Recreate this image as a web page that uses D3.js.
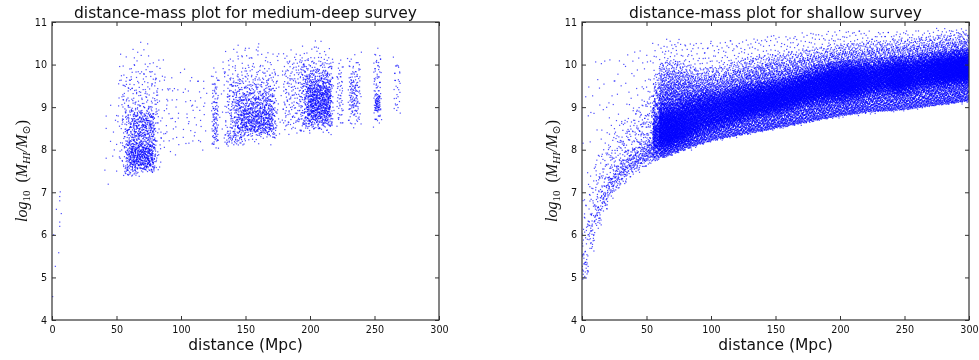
<!DOCTYPE html>
<html><head><meta charset="utf-8">
<script src="https://cdn.jsdelivr.net/npm/d3@7"></script>
<style>
body{margin:0;background:#fff}
#wrap{position:relative;width:979px;height:360px;overflow:hidden}
canvas,svg{position:absolute;left:0;top:0}
</style>
</head><body>
<div id="wrap"><canvas id="cv" width="979" height="360"></canvas><svg id="sv" width="979" height="360"></svg></div>
<script>
// ---------------- DATA ----------------
const xTicks = [0, 50, 100, 150, 200, 250, 300];
const yTicks = [4, 5, 6, 7, 8, 9, 10, 11];
const titles = ["distance-mass plot for medium-deep survey", "distance-mass plot for shallow survey"];
const xLabel = "distance (Mpc)";

// medium-deep survey: point clumps [dist from, dist to, logM from, logM to, number of galaxies]
const deepClumps = [
  [51, 86, 7.42, 10.2, 280],
  [55, 82, 7.5, 9.15, 330],
  [57, 81, 7.52, 8.3, 270],
  [60, 79, 7.6, 8.1, 120],
  [61, 80, 8.25, 8.9, 130],
  [55, 68, 7.36, 7.62, 35],
  [68, 81, 7.46, 7.64, 25],
  [48, 90, 7.6, 10.3, 60],
  [60, 78, 10.1, 10.6, 6],
  [85, 100, 7.8, 10.0, 35],
  [44, 55, 7.3, 9.6, 12],
  [100, 121, 7.95, 9.9, 45],
  [123.5, 129.5, 7.95, 9.95, 80],
  [124.5, 128.5, 8.1, 9.2, 35],
  [130, 178, 8.1, 10.4, 290],
  [134, 176, 8.2, 9.85, 390],
  [140, 174, 8.3, 9.4, 380],
  [145, 173, 8.42, 9.0, 160],
  [133, 150, 8.08, 8.4, 45],
  [140, 168, 10.1, 10.55, 10],
  [178, 196, 8.35, 10.35, 180],
  [191, 219, 8.32, 10.45, 250],
  [193, 218, 8.42, 10.1, 380],
  [196, 218, 8.55, 9.75, 350],
  [198, 217, 8.75, 9.5, 170],
  [200, 212, 10.3, 10.7, 5],
  [220.5, 226, 8.5, 10.15, 55],
  [229, 240, 8.48, 10.3, 100],
  [230.5, 237.5, 8.85, 9.75, 60],
  [249, 255.5, 8.5, 10.4, 80],
  [250, 254.5, 8.88, 9.32, 55],
  [264.5, 270.5, 8.8, 10.2, 32]
];
// medium-deep survey: isolated galaxies
const deepSingleDist = [0.5, 1.3, 2.6, 5.2, 6.0, 6.0, 3.4, 7.2, 6.0, 6.0, 6.4, 42, 42, 43.6, 42, 41];
const deepSingleMass = [4.55, 6.0, 5.26, 5.58, 6.2, 6.3, 6.6, 6.5, 6.8, 6.9, 7.01, 8.79, 8.5, 7.19, 7.8, 7.52];

// shallow survey: 5 Mpc distance bins, mass envelope and counts per bin
const shallowBin = [0,5,10,15,20,25,30,35,40,45,50,55,60,65,70,75,80,85,90,95,100,105,110,115,120,125,130,135,140,145,150,155,160,165,170,175,180,185,190,195,200,205,210,215,220,225,230,235,240,245,250,255,260,265,270,275,280,285,290,295];
const shallowLow = [4.95,5.6,6.15,6.55,6.85,7.05,7.2,7.35,7.47,7.57,7.66,7.75,7.82,7.86,7.92,7.98,8.03,8.08,8.13,8.18,8.22,8.25,8.28,8.31,8.34,8.37,8.4,8.42,8.45,8.48,8.51,8.54,8.57,8.6,8.63,8.66,8.69,8.72,8.75,8.77,8.8,8.82,8.84,8.86,8.88,8.89,8.9,8.91,8.92,8.93,8.95,8.97,8.99,9.01,9.03,9.05,9.07,9.09,9.11,9.13];
const shallowCoreLo = [4.95,5.7,6.2,6.6,6.9,7.1,7.25,7.4,7.5,7.6,7.7,7.8,7.9,7.95,8.0,8.05,8.1,8.2,8.3,8.35,8.4,8.45,8.5,8.55,8.6,8.65,8.7,8.75,8.75,8.8,8.8,8.85,8.9,8.95,9.0,9.0,9.05,9.05,9.1,9.1,9.1,9.15,9.15,9.2,9.25,9.25,9.3,9.3,9.25,9.25,9.3,9.35,9.4,9.4,9.45,9.45,9.45,9.5,9.5,9.5];
const shallowCoreHi = [5.6,6.5,6.9,7.2,7.5,7.7,7.85,8.0,8.1,8.2,8.3,8.9,9.1,9.1,9.1,9.2,9.3,9.3,9.4,9.4,9.4,9.4,9.45,9.5,9.5,9.55,9.55,9.6,9.6,9.65,9.65,9.7,9.75,9.8,9.85,9.9,9.95,10.0,10.05,10.05,10.1,10.1,10.1,10.1,10.1,10.1,10.15,10.15,10.2,10.2,10.2,10.2,10.25,10.25,10.3,10.3,10.3,10.35,10.35,10.35];
const shallowCoreN = [15,15,20,25,30,30,35,35,40,45,55,250,520,570,520,470,420,370,320,320,320,300,320,340,360,370,370,370,370,370,360,360,360,360,360,370,380,400,440,470,470,470,440,370,320,320,320,350,440,470,400,340,340,360,400,440,470,500,520,520];
const shallowBodyHi = [7.0,7.6,8.0,8.3,8.5,8.7,8.8,9.0,9.1,9.3,9.5,9.8,10.05,10.1,10.1,10.05,10.0,9.95,9.9,9.95,9.95,9.95,10.0,10.05,10.1,10.15,10.15,10.2,10.2,10.25,10.25,10.25,10.3,10.3,10.35,10.35,10.4,10.4,10.45,10.45,10.5,10.5,10.5,10.5,10.55,10.55,10.55,10.55,10.6,10.6,10.6,10.6,10.65,10.65,10.65,10.7,10.7,10.7,10.75,10.75];
const shallowBodyN = [35,35,40,40,40,40,45,45,50,55,65,260,470,470,450,430,410,400,390,380,370,360,360,370,380,380,380,380,380,380,370,370,370,370,370,370,370,370,370,370,370,370,360,350,350,350,350,350,350,350,350,350,350,350,360,360,370,370,370,370];
const shallowTailHi = [9.3,9.8,10.2,10.2,10.2,10.2,10.2,10.3,10.3,10.4,10.5,10.5,10.5,10.6,10.6,10.6,10.5,10.5,10.5,10.5,10.55,10.55,10.6,10.6,10.6,10.6,10.65,10.65,10.65,10.7,10.7,10.7,10.7,10.7,10.75,10.75,10.75,10.75,10.8,10.8,10.8,10.8,10.8,10.8,10.8,10.8,10.8,10.8,10.8,10.8,10.8,10.8,10.8,10.8,10.85,10.85,10.85,10.85,10.85,10.85];
const shallowTailN = [8,10,12,12,12,12,12,12,14,15,18,30,45,45,45,40,40,35,35,35,35,35,35,35,35,35,35,35,35,35,35,35,35,35,35,35,35,35,35,35,35,35,35,35,35,35,35,35,35,35,35,35,35,35,35,35,35,35,35,35];

// ---------------- BUILD POINTS (leaped Halton placement inside each bin) ----------------
function halton(i, b) { let f = 1, r = 0; while (i > 0) { f /= b; r += f * (i % b); i = Math.floor(i / b); } return r; }
let seq = 1;
const LEAP = 409;
function fill(out, d0, d1, m0, m1, n) {
  for (let i = 0; i < n; i++, seq++) {
    const k = seq * LEAP;
    out.push({ dist: d0 + halton(k, 2) * (d1 - d0), mass: m0 + halton(k, 3) * (m1 - m0) });
  }
}
// the same count spread over 4 nested boxes so that a clump thins out toward its edges
function softFill(out, d0, d1, m0, m1, n, fd, fLo, fHi) {
  const w = d1 - d0, h = m1 - m0;
  for (let j = 0; j < 4; j++) {
    const t = j / 4;
    fill(out, d0 + t * fd * w, d1 - t * fd * w, m0 + t * fLo * h, m1 - t * fHi * h, Math.round(n / 4));
  }
}
const deepPoints = [];
deepClumps.forEach(c => softFill(deepPoints, c[0], c[1], c[2], c[3], c[4], 0.15, 0.15, 0.25));
deepSingleDist.forEach((d, i) => deepPoints.push({ dist: d, mass: deepSingleMass[i] }));

const shallowPoints = [];
shallowBin.forEach((b, i) => {
  const b1 = b + 5;
  softFill(shallowPoints, b, b1, shallowLow[i], shallowBodyHi[i], shallowBodyN[i], 0, 0, 0.45);
  softFill(shallowPoints, b, b1, shallowCoreLo[i], shallowCoreHi[i], shallowCoreN[i], 0, 0.3, 0.4);
  fill(shallowPoints, b, b1, shallowLow[i] - 0.04, shallowTailHi[i], shallowTailN[i]);
});

// ---------------- DRAW ----------------
const svg = d3.select("#sv");
const ctx = document.getElementById("cv").getContext("2d");
const plotTop = 22, plotBottom = 320;
const panels = [
  { left: 52, right: 439, pts: deepPoints, title: titles[0] },
  { left: 582, right: 969, pts: shallowPoints, title: titles[1] }
];
const FONT = "'DejaVu Sans', sans-serif";

panels.forEach(p => {
  const x = d3.scaleLinear().domain([0, 300]).range([p.left, p.right]);
  const y = d3.scaleLinear().domain([4, 11]).range([plotBottom, plotTop]);

  ctx.save();
  ctx.beginPath(); ctx.rect(p.left, plotTop, p.right - p.left, plotBottom - plotTop); ctx.clip();
  ctx.fillStyle = "rgba(0,0,255,0.7)";
  p.pts.forEach(d => { ctx.fillRect(x(d.dist) - 0.6, y(d.mass) - 0.6, 1.2, 1.2); });
  ctx.restore();

  const g = svg.append("g");
  const ax = (axis, tr) => {
    const a = g.append("g").attr("transform", tr).call(axis);
    a.select(".domain").remove();
    a.selectAll("line").attr("stroke", "#333");
    a.selectAll("text").attr("fill", "#111").style("font-family", FONT).style("font-size", "9.6px");
    return a;
  };
  ax(d3.axisBottom(x).tickValues(xTicks).tickSize(-4).tickPadding(6).tickFormat(d3.format("d")), `translate(0,${plotBottom})`);
  ax(d3.axisTop(x).tickValues(xTicks).tickSize(-4).tickFormat(""), `translate(0,${plotTop})`);
  ax(d3.axisLeft(y).tickValues(yTicks).tickSize(-4).tickPadding(5).tickFormat(d3.format("d")), `translate(${p.left},0)`);
  ax(d3.axisRight(y).tickValues(yTicks).tickSize(-4).tickFormat(""), `translate(${p.right},0)`);

  g.append("rect").attr("x", p.left).attr("y", plotTop).attr("width", p.right - p.left).attr("height", plotBottom - plotTop)
    .attr("fill", "none").attr("stroke", "#333").attr("stroke-width", 1.2);

  const cx = (p.left + p.right) / 2;
  g.append("text").attr("x", cx).attr("y", 18).attr("text-anchor", "middle")
    .style("font-family", FONT).style("font-size", "15.5px").attr("fill", "#111").text(p.title);
  g.append("text").attr("x", cx).attr("y", 350).attr("text-anchor", "middle")
    .style("font-family", FONT).style("font-size", "15.5px").attr("fill", "#111").text(xLabel);

  const yl = g.append("text").attr("transform", `translate(${p.left - 25.5},${(plotTop + plotBottom) / 2}) rotate(-90)`)
    .attr("text-anchor", "middle").style("font-family", "'Liberation Serif', 'DejaVu Serif', serif")
    .style("font-size", "16px").attr("fill", "#111");
  yl.append("tspan").style("font-style", "italic").text("log");
  yl.append("tspan").attr("dy", 3.5).style("font-size", "11px").text("10");
  yl.append("tspan").attr("dy", -3.5).text("\u2002(");
  yl.append("tspan").style("font-style", "italic").text("M");
  yl.append("tspan").attr("dy", 3.5).style("font-size", "11px").style("font-style", "italic").text("HI");
  yl.append("tspan").attr("dy", -3.5).style("font-style", "italic").text("/M");
  yl.append("tspan").attr("dy", 3.5).style("font-size", "11px").text("\u2299");
  yl.append("tspan").attr("dy", -3.5).text(")");
});
</script>
</body></html>
